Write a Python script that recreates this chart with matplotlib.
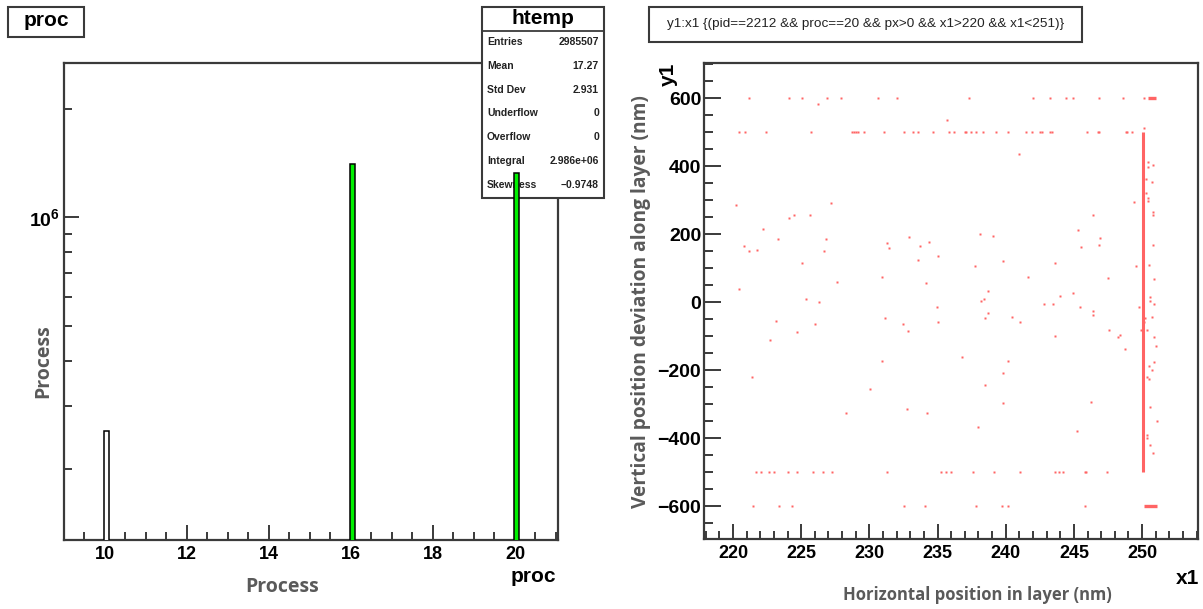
import matplotlib.pyplot as plt
from matplotlib.patches import Rectangle
from matplotlib.ticker import MultipleLocator, LogLocator, LogFormatterMathtext, NullFormatter

W, H = 1203, 609

# ---- left pad: proc histogram (bin contents, 100 bins over 9..21)
proc_values = [10, 16, 20]
proc_counts = [254704, 1400717, 1330086]
proc_fill = ['white', '#00f000', '#00f000']
bin_width = 0.12

stat_names = ['Entries', 'Mean', 'Std Dev', 'Underflow', 'Overflow', 'Integral', 'Skewness']
stat_values = ['2985507', '17.27', '2.931', '0', '0', '2.986e+06', '\u22120.9748']

# ---- right pad: y1 vs x1
# hits that pile up on the layer edges
row600_x = [221.2, 224.14, 225.07, 226.89, 227.92, 230.66, 231.99, 237.3, 242.01,
            243.24, 244.39, 244.95, 246.84, 248.63, 250.15]
row500_x = [220.44, 220.9, 222.43, 225.74, 228.73, 228.88, 229.02, 229.19, 229.63,
            231.05, 232.55, 233.21, 233.58, 234.63, 235.86, 236.23, 236.99, 237.08,
            237.48, 237.85, 238.33, 239.26, 240.13, 241.45, 241.91, 242.48, 242.67,
            243.24, 243.4, 245.98, 246.74, 246.84, 248.82, 248.92, 249.29]
rowm500_x = [221.67, 222.06, 222.62, 222.99, 224.04, 224.71, 225.83, 226.6, 227.26,
             231.32, 235.22, 235.59, 235.96, 237.57, 239.17, 241.08, 243.63, 243.9,
             244.19, 245.79, 245.88, 247.4]
rowm600_x = [221.49, 223.38, 224.31, 232.55, 234.07, 237.85, 239.76, 240.2, 245.79]

# isolated hits
scatter_x = [226.23, 235.66, 240.96, 250.15,
             220.25, 227.16, 224.14, 224.5, 225.64, 222.23, 223.28, 226.79, 220.81, 221.2,
             221.76, 226.69, 225.07, 227.62, 220.44, 225.37, 226.3,
             223.18, 226.0, 224.7, 222.72, 221.4, 230.07, 228.31,
             232.94, 238.14, 239.07, 231.32, 231.42, 234.36, 233.7, 235.02, 233.58, 237.74,
             239.83, 230.96, 241.62, 234.17, 238.7, 238.4, 238.21,
             234.93, 231.15, 238.7, 238.5, 240.49, 242.79, 232.45, 235.02, 241.05, 232.84,
             230.96, 236.82, 240.13, 239.83, 238.5, 239.83, 232.74, 234.26, 237.94,
             250.42, 250.81, 250.42, 250.32, 250.71, 250.32, 250.42, 250.42, 249.39, 250.81,
             250.81, 246.38, 245.32, 246.94, 246.84, 245.51, 250.81, 243.63, 249.58, 250.51,
             247.5, 250.9, 243.99, 244.95, 250.61, 250.61,
             243.43, 245.42, 246.38, 246.38, 249.76, 250.9, 250.71, 250.24, 250.15, 249.95,
             250.34, 247.57, 248.36, 248.26, 243.63, 250.9, 251.0, 248.72, 250.9, 250.54,
             250.71, 250.34, 250.54, 246.27, 250.61, 251.1, 245.22, 250.34, 250.34, 250.61,
             250.81]
scatter_y = [581, 535, 434, 513,
             286, 290, 248, 256, 256, 215, 184, 184, 165, 150,
             154, 150, 116, 59, 39, 10, -1,
             -55, -66, -88, -112, -221, -255, -327,
             191, 199, 195, 173, 158, 176, 165, 134, 124, 105,
             120, 75, 75, 55, 32, 10, 2,
             -16, -47, -32, -47, -43, -5, -66, -59, -59, -85,
             -173, -161, -173, -210, -244, -297, -316, -327, -369,
             411, 404, 396, 362, 354, 321, 305, 298, 294, 264,
             256, 256, 211, 188, 169, 162, 169, 116, 105, 109,
             71, 67, 18, 26, 14, 2,
             -5, -16, -27, -39, -16, -5, -43, -47, -59, -81,
             -81, -81, -96, -104, -100, -104, -130, -138, -176, -187,
             -199, -221, -225, -293, -309, -350, -380, -392, -399, -421,
             -444]

# dense strips at the layer boundary
edge_x = [250.05, 250.05]
edge_y = [-500, 500]
top_strip_x = [250.42, 251.03]
top_strip_y = [600, 600]
bot_strip_x = [250.15, 251.1]
bot_strip_y = [-600, -600]

plt.rcParams['font.family'] = ['Liberation Sans', 'DejaVu Sans']
label_font = 'Open Sans'
gray = '#5a5a5a'
frame = '#3a3a3a'
red = '#ff6464'

fig = plt.figure(figsize=(W / 100, H / 100), dpi=100)


def fx(px):
    return px / W


def fy(py):
    return 1 - py / H


def pad_box(x0, y0, x1, y1, z=3):
    r = Rectangle((fx(x0), fy(y1)), fx(x1 - x0), fy(y0) - fy(y1), transform=fig.transFigure,
                  facecolor='white', edgecolor=frame, lw=1.5, zorder=z, clip_on=False)
    fig.add_artist(r)
    return r


def style_frame(ax):
    for s in ax.spines.values():
        s.set_color(frame)
        s.set_linewidth(1.6)
    ax.tick_params(which='both', direction='in', top=False, right=False, color=frame, width=1.4)


# ---------------- left: proc
ax = fig.add_axes([fx(64), fy(540), fx(558 - 64), fy(63) - fy(540)])
left_edges = [v - 0.02 for v in proc_values]
ax.bar(left_edges, proc_counts, width=bin_width, align='edge', color=proc_fill,
       edgecolor='black', linewidth=1.1, zorder=5)
ax.set_yscale('log')
ax.set_xlim(9, 21.05)
ax.set_ylim(1.27e5, 2.68e6)
style_frame(ax)
ax.xaxis.set_major_locator(MultipleLocator(2))
ax.xaxis.set_minor_locator(MultipleLocator(0.5))
ax.yaxis.set_major_locator(LogLocator(base=10, subs=[1.0]))
ax.yaxis.set_minor_locator(LogLocator(base=10, subs=[2, 3, 4, 5, 6, 7, 8, 9]))
ax.yaxis.set_major_formatter(LogFormatterMathtext())
ax.yaxis.set_minor_formatter(NullFormatter())
ax.tick_params(axis='x', which='major', length=11, labelsize=13, pad=4)
ax.tick_params(axis='x', which='minor', length=5.5)
ax.tick_params(axis='y', which='major', length=11, labelsize=14, pad=3)
ax.tick_params(axis='y', which='minor', length=6)
for t in ax.get_xticklabels() + ax.get_yticklabels():
    t.set_fontweight('bold')

fig.text(fx(282), fy(587), 'Process', ha='center', va='center', fontsize=14,
         fontweight='bold', color=gray, family=label_font)
fig.text(fx(43), fy(361), 'Process', ha='center', va='center', rotation=90, fontsize=14,
         fontweight='bold', color=gray, family=label_font)
fig.text(fx(556), fy(577), 'proc', ha='right', va='center', fontsize=15, fontweight='bold')

# pad title
pad_box(8, 7, 84, 37)
fig.text(fx(46), fy(21), 'proc', ha='center', va='center', fontsize=15, fontweight='bold', zorder=4)

# stats box, drawn under the bars but over the frame
sb = Rectangle((fx(482), fy(198)), fx(604 - 482), fy(7) - fy(198), transform=fig.transFigure,
               facecolor='white', edgecolor=frame, lw=1.5, zorder=3, clip_on=False)
ax.add_patch(sb)
ax.plot([fx(482), fx(604)], [fy(31), fy(31)], transform=fig.transFigure, color=frame,
        lw=1.3, zorder=3.1, clip_on=False)
ax.text(fx(543), fy(19), 'htemp', transform=fig.transFigure, ha='center', va='center',
        fontsize=15, fontweight='bold', zorder=3.2)
for i, (name, val) in enumerate(zip(stat_names, stat_values)):
    yy = 42 + i * 23.8
    ax.text(fx(487), fy(yy), name, transform=fig.transFigure, ha='left', va='center',
            fontsize=7.5, fontweight='bold', color='#222222', zorder=3.2)
    ax.text(fx(599), fy(yy), val, transform=fig.transFigure, ha='right', va='center',
            fontsize=7.5, fontweight='bold', color='#222222', zorder=3.2)

# ---------------- right: y1:x1
bx = fig.add_axes([fx(704), fy(539), fx(1198 - 704), fy(63) - fy(539)])
bx.plot(edge_x, edge_y, color=red, lw=2.2, solid_capstyle='butt', zorder=3)
bx.plot(top_strip_x, top_strip_y, color=red, lw=2.4, solid_capstyle='butt', zorder=3)
bx.plot(bot_strip_x, bot_strip_y, color=red, lw=2.4, solid_capstyle='butt', zorder=3)
bx.plot(row600_x, [600] * len(row600_x), 's', ms=1.9, color=red, mec='none', zorder=3)
bx.plot(row500_x, [500] * len(row500_x), 's', ms=1.9, color=red, mec='none', zorder=3)
bx.plot(rowm500_x, [-500] * len(rowm500_x), 's', ms=1.9, color=red, mec='none', zorder=3)
bx.plot(rowm600_x, [-600] * len(rowm600_x), 's', ms=1.9, color=red, mec='none', zorder=3)
bx.plot(scatter_x, scatter_y, 's', ms=1.9, color=red, mec='none', zorder=3)
bx.set_xlim(217.87, 254.1)
bx.set_ylim(-697, 703)
style_frame(bx)
bx.xaxis.set_major_locator(MultipleLocator(5))
bx.xaxis.set_minor_locator(MultipleLocator(1))
bx.yaxis.set_major_locator(MultipleLocator(200))
bx.yaxis.set_minor_locator(MultipleLocator(50))
bx.tick_params(axis='x', which='major', length=11, labelsize=13, pad=4)
bx.tick_params(axis='x', which='minor', length=5.5)
bx.tick_params(axis='y', which='major', length=12, labelsize=14, pad=2)
bx.tick_params(axis='y', which='minor', length=6.5)
for t in bx.get_xticklabels() + bx.get_yticklabels():
    t.set_fontweight('bold')

fig.text(fx(977), fy(595), 'Horizontal position in layer (nm)', ha='center', va='center',
         fontsize=12, fontweight='bold', color=gray, family=label_font)
fig.text(fx(641), fy(302), 'Vertical position deviation along layer (nm)', ha='center',
         va='center', rotation=90, fontsize=13.8, fontweight='bold', color=gray, family=label_font)
fig.text(fx(1199), fy(579), 'x1', ha='right', va='center', fontsize=15, fontweight='bold')
fig.text(fx(668), fy(63), 'y1', ha='center', va='top', rotation=90, fontsize=15, fontweight='bold')

pad_box(649, 7, 1082, 42)
fig.text(fx(865.5), fy(24.5), 'y1:x1 {(pid==2212 && proc==20 && px>0 && x1>220 && x1<251)}',
         ha='center', va='center', fontsize=9.7, color='#222222', zorder=4)

fig.savefig('out.png', dpi=100)
